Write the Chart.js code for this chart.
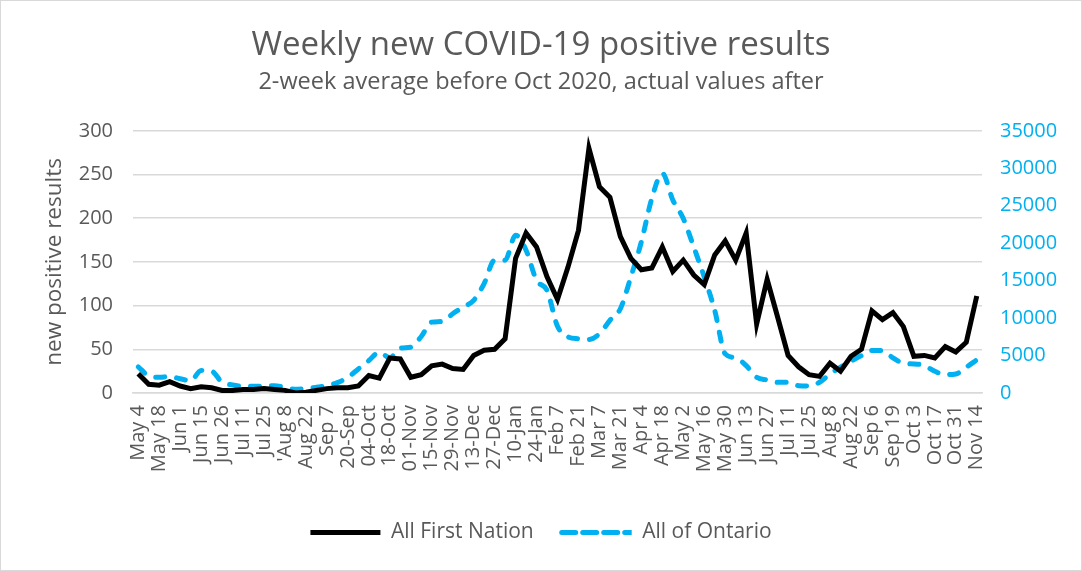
<!DOCTYPE html>
<html>
<head>
<meta charset="utf-8">
<script src="https://cdn.jsdelivr.net/npm/chart.js@4"></script>
<style>
  html, body { margin: 0; padding: 0; background: #fff; }
  #wrap { position: relative; width: 1082px; height: 571px; box-sizing: border-box; border: 1px solid #d9d9d9; }
</style>
</head>
<body>
<div id="wrap"><canvas id="chart"></canvas></div>
<script>
// tick labels (every second week is labelled)
const weekLabels = [
  "May 4", "May 18", "Jun 1", "Jun 15", "Jun 26", "Jul 11", "Jul 25", "'Aug 8", "Aug 22", "Sep 7",
  "20-Sep", "04-Oct", "18-Oct", "01-Nov", "15-Nov", "29-Nov", "13-Dec", "27-Dec", "10-Jan", "24-Jan",
  "Feb 7", "Feb 21", "Mar 7", "Mar 21", "Apr 4", "Apr 18", "May 2", "May 16", "May 30", "Jun 13",
  "Jun 27", "Jul 11", "Jul 25", "Aug 8", "Aug 22", "Sep 6", "Sep 19", "Oct 3", "Oct 17", "Oct 31",
  "Nov 14"
];

// weekly positive results, First Nation (left axis)
const firstNation = [
  22, 10, 9, 13, 8, 5, 7, 6, 3, 3,
  4, 4, 5, 4, 3, 0, 1, 3, 5, 6,
  6, 8, 20, 17, 40, 39, 18, 21, 31, 33,
  28, 27, 43, 49, 50, 62, 154, 183, 167, 133,
  107, 144, 186, 280, 236, 224, 179, 154, 141, 143,
  167, 139, 152, 135, 124, 158, 174, 152, 183, 79,
  130, 87, 43, 30, 21, 19, 34, 25, 42, 50,
  94, 84, 92, 76, 42, 43, 40, 53, 47, 58,
  111
];

// weekly positive results, all of Ontario (right axis)
const ontario = [
  3500, 2300, 2100, 2200, 1900, 1650, 2990, 2900, 1430, 1070,
  900, 890, 890, 980, 760, 490, 580, 760, 980, 1380,
  2100, 3210, 4330, 5450, 4690, 5980, 6120, 7540, 9460, 9550,
  10580, 11470, 12360, 14600, 17720, 17720, 21070, 19060, 15040, 13700,
  8900, 7500, 7230, 7140, 7900, 9690, 11250, 15490, 20180, 25980,
  29330, 25760, 23300, 19500, 15490, 11030, 5220, 4690, 3660, 2100,
  1740, 1430, 1430, 980, 940, 1430, 2540, 3440, 4240, 5000,
  5670, 5670, 4690, 3970, 3880, 3660, 2900, 2450, 2540, 3440,
  4420
];

const categories = [];
weekLabels.forEach((l, i) => {
  categories.push(l);
  if (i < weekLabels.length - 1) categories.push("");
});

const grey = "#595959";
const cyan = "#00B0F0";
const font = "'Open Sans', 'Noto Sans', sans-serif";

new Chart(document.getElementById("chart"), {
  type: "line",
  data: {
    labels: categories,
    datasets: [
      {
        label: "All First Nation",
        data: firstNation,
        borderColor: "#000",
        backgroundColor: "#000",
        borderWidth: 5,
        pointRadius: 0,
        tension: 0,
        yAxisID: "y",
      },
      {
        label: "All of Ontario",
        data: ontario,
        borderColor: cyan,
        backgroundColor: cyan,
        borderWidth: 5,
        borderDash: [9, 12],
        borderCapStyle: "round",
        pointRadius: 0,
        cubicInterpolationMode: "monotone",
        yAxisID: "y1",
      },
    ],
  },
  options: {
    responsive: true,
    maintainAspectRatio: false,
    animation: false,
    layout: { padding: { left: 0, right: 0, top: 0, bottom: 17 } },
    plugins: {
      title: {
        display: true,
        text: "Weekly new COVID-19 positive results",
        color: grey,
        font: { family: font, size: 33, weight: "normal" },
        padding: { top: 25, bottom: 3 },
      },
      subtitle: {
        display: true,
        text: "2-week average before Oct 2020, actual values after",
        color: grey,
        font: { family: font, size: 23.5 },
        padding: { top: 0, bottom: 34 },
      },
      legend: {
        position: "bottom",
        labels: {
          boxWidth: 70,
          boxHeight: 0,
          padding: 28,
          color: grey,
          font: { family: font, size: 21 },
        },
      },
      tooltip: { enabled: false },
    },
    scales: {
      x: {
        offset: true,
        grid: { display: false, drawTicks: false },
        border: { color: "#d9d9d9", width: 1.5 },
        ticks: {
          autoSkip: false,
          minRotation: 90,
          maxRotation: 90,
          padding: 12,
          color: grey,
          font: { family: font, size: 20 },
        },
        afterFit: (s) => { s.height = 101; },
      },
      y: {
        position: "left",
        min: 0,
        max: 300,
        ticks: { stepSize: 50, padding: 20, color: grey, font: { family: font, size: 20 } },
        grid: { color: "#d9d9d9", lineWidth: 1.5, drawTicks: false },
        border: { display: false },
        title: {
          display: true,
          text: "new positive results",
          color: grey,
          font: { family: font, size: 22.5 },
          padding: { top: 40, bottom: 0 },
        },
        afterFit: (s) => { s.width = 132; },
      },
      y1: {
        position: "right",
        min: 0,
        max: 35000,
        ticks: {
          stepSize: 5000,
          padding: 18,
          color: cyan,
          font: { family: font, size: 20 },
          callback: (v) => String(v),
        },
        grid: { display: false, drawTicks: false },
        border: { display: false },
        afterFit: (s) => { s.width = 99; },
      },
    },
  },
});
</script>
</body>
</html>
